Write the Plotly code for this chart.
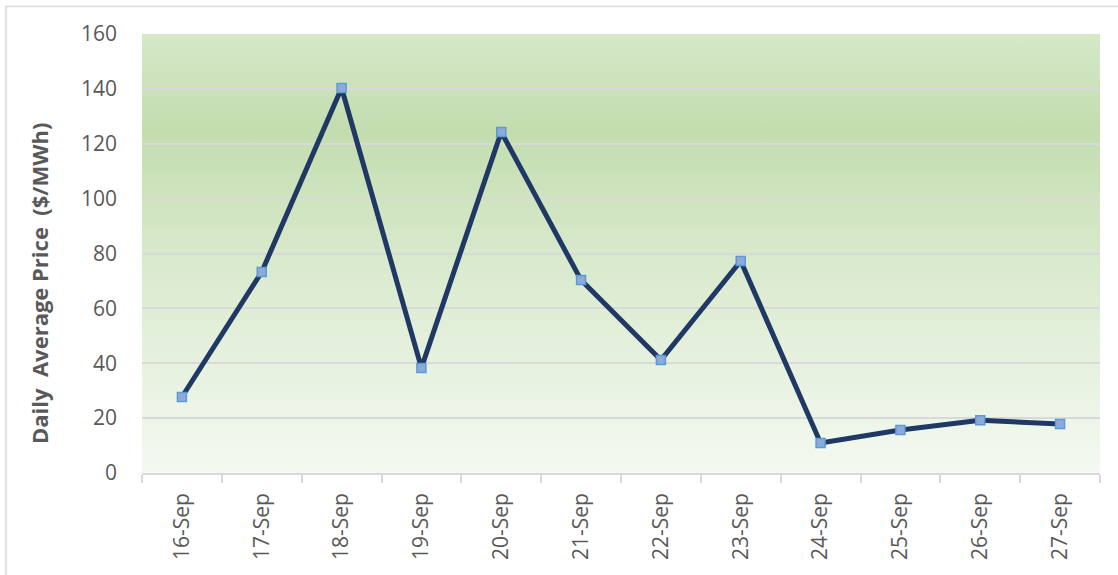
import base64
import plotly.graph_objects as go

dates = ["16-Sep", "17-Sep", "18-Sep", "19-Sep", "20-Sep", "21-Sep",
         "22-Sep", "23-Sep", "24-Sep", "25-Sep", "26-Sep", "27-Sep"]
prices = [27.7, 73.3, 140.3, 38.3, 124.3, 70.3, 41.2, 77.3, 10.9, 15.7, 19.2, 17.9]
y_ticks = [0, 20, 40, 60, 80, 100, 120, 140, 160]

svg = ('<svg xmlns="http://www.w3.org/2000/svg" width="100" height="100" preserveAspectRatio="none">'
       '<defs><linearGradient id="g" x1="0" y1="0" x2="0" y2="1">'
       '<stop offset="0" stop-color="#d5e8c8"/>'
       '<stop offset="0.22" stop-color="#c3ddaf"/>'
       '<stop offset="0.55" stop-color="#dbebd0"/>'
       '<stop offset="1" stop-color="#f4f9f1"/>'
       '</linearGradient></defs>'
       '<rect width="100" height="100" fill="url(#g)"/></svg>')
src = "data:image/svg+xml;base64," + base64.b64encode(svg.encode()).decode()

fig = go.Figure()
fig.add_trace(go.Scatter(
    x=dates, y=prices, mode="lines+markers",
    line=dict(color="#1f3864", width=5),
    marker=dict(symbol="square", size=9, color="#8eaadb",
                line=dict(color="#5b9bd5", width=1.5)),
    hoverinfo="x+y",
))

fig.add_layout_image(dict(source=src, xref="paper", yref="paper", x=0, y=1,
                          sizex=1, sizey=1, sizing="stretch", layer="below"))

W, H = 1118, 575
L, R, T, B = 142, 18, 34, 102
pw, ph = W - L - R, H - T - B
fig.add_shape(type="rect", xref="paper", yref="paper",
              x0=(6 - L) / pw, x1=(W + 5 - L) / pw,
              y0=-(H + 5 - T - ph) / ph, y1=1 + (T - 6.5) / ph,
              line=dict(color="#d9d9d9", width=1.5), fillcolor="rgba(0,0,0,0)",
              layer="below")

# y-axis title (placed as in the reference, slightly below the plot centre)
fig.add_annotation(
    text="<b>Daily\u00a0 Average Price\u00a0 ($/MWh)</b>",
    xref="paper", yref="paper", x=(39 - L) / pw, y=(H - B - 284) / ph,
    xanchor="center", yanchor="middle", textangle=-90, showarrow=False,
    font=dict(size=22, color="#595959"),
)

fig.update_layout(
    width=W, height=H,
    margin=dict(l=L, r=R, t=T, b=B, pad=0),
    paper_bgcolor="white", plot_bgcolor="rgba(0,0,0,0)",
    showlegend=False,
    font=dict(family="Open Sans, Calibri, sans-serif", color="#595959"),
    xaxis=dict(type="category", tickangle=-90, tickson="boundaries",
               ticks="outside", ticklen=8, tickcolor="#d9d9d9", tickwidth=1.5,
               showline=True, linecolor="#d9d9d9", linewidth=1.5,
               showgrid=False, tickfont=dict(size=21, color="#595959"),
               ticklabelstandoff=10,
               range=[-0.5, 11.5]),
    yaxis=dict(range=[0, 160], tickvals=y_ticks, showgrid=True,
               gridcolor="#d9d9d9", gridwidth=1.5, zeroline=False,
               showline=False, ticks="", tickfont=dict(size=21, color="#595959"),
               ticklabelstandoff=24),
)

fig.write_html("out.html")
